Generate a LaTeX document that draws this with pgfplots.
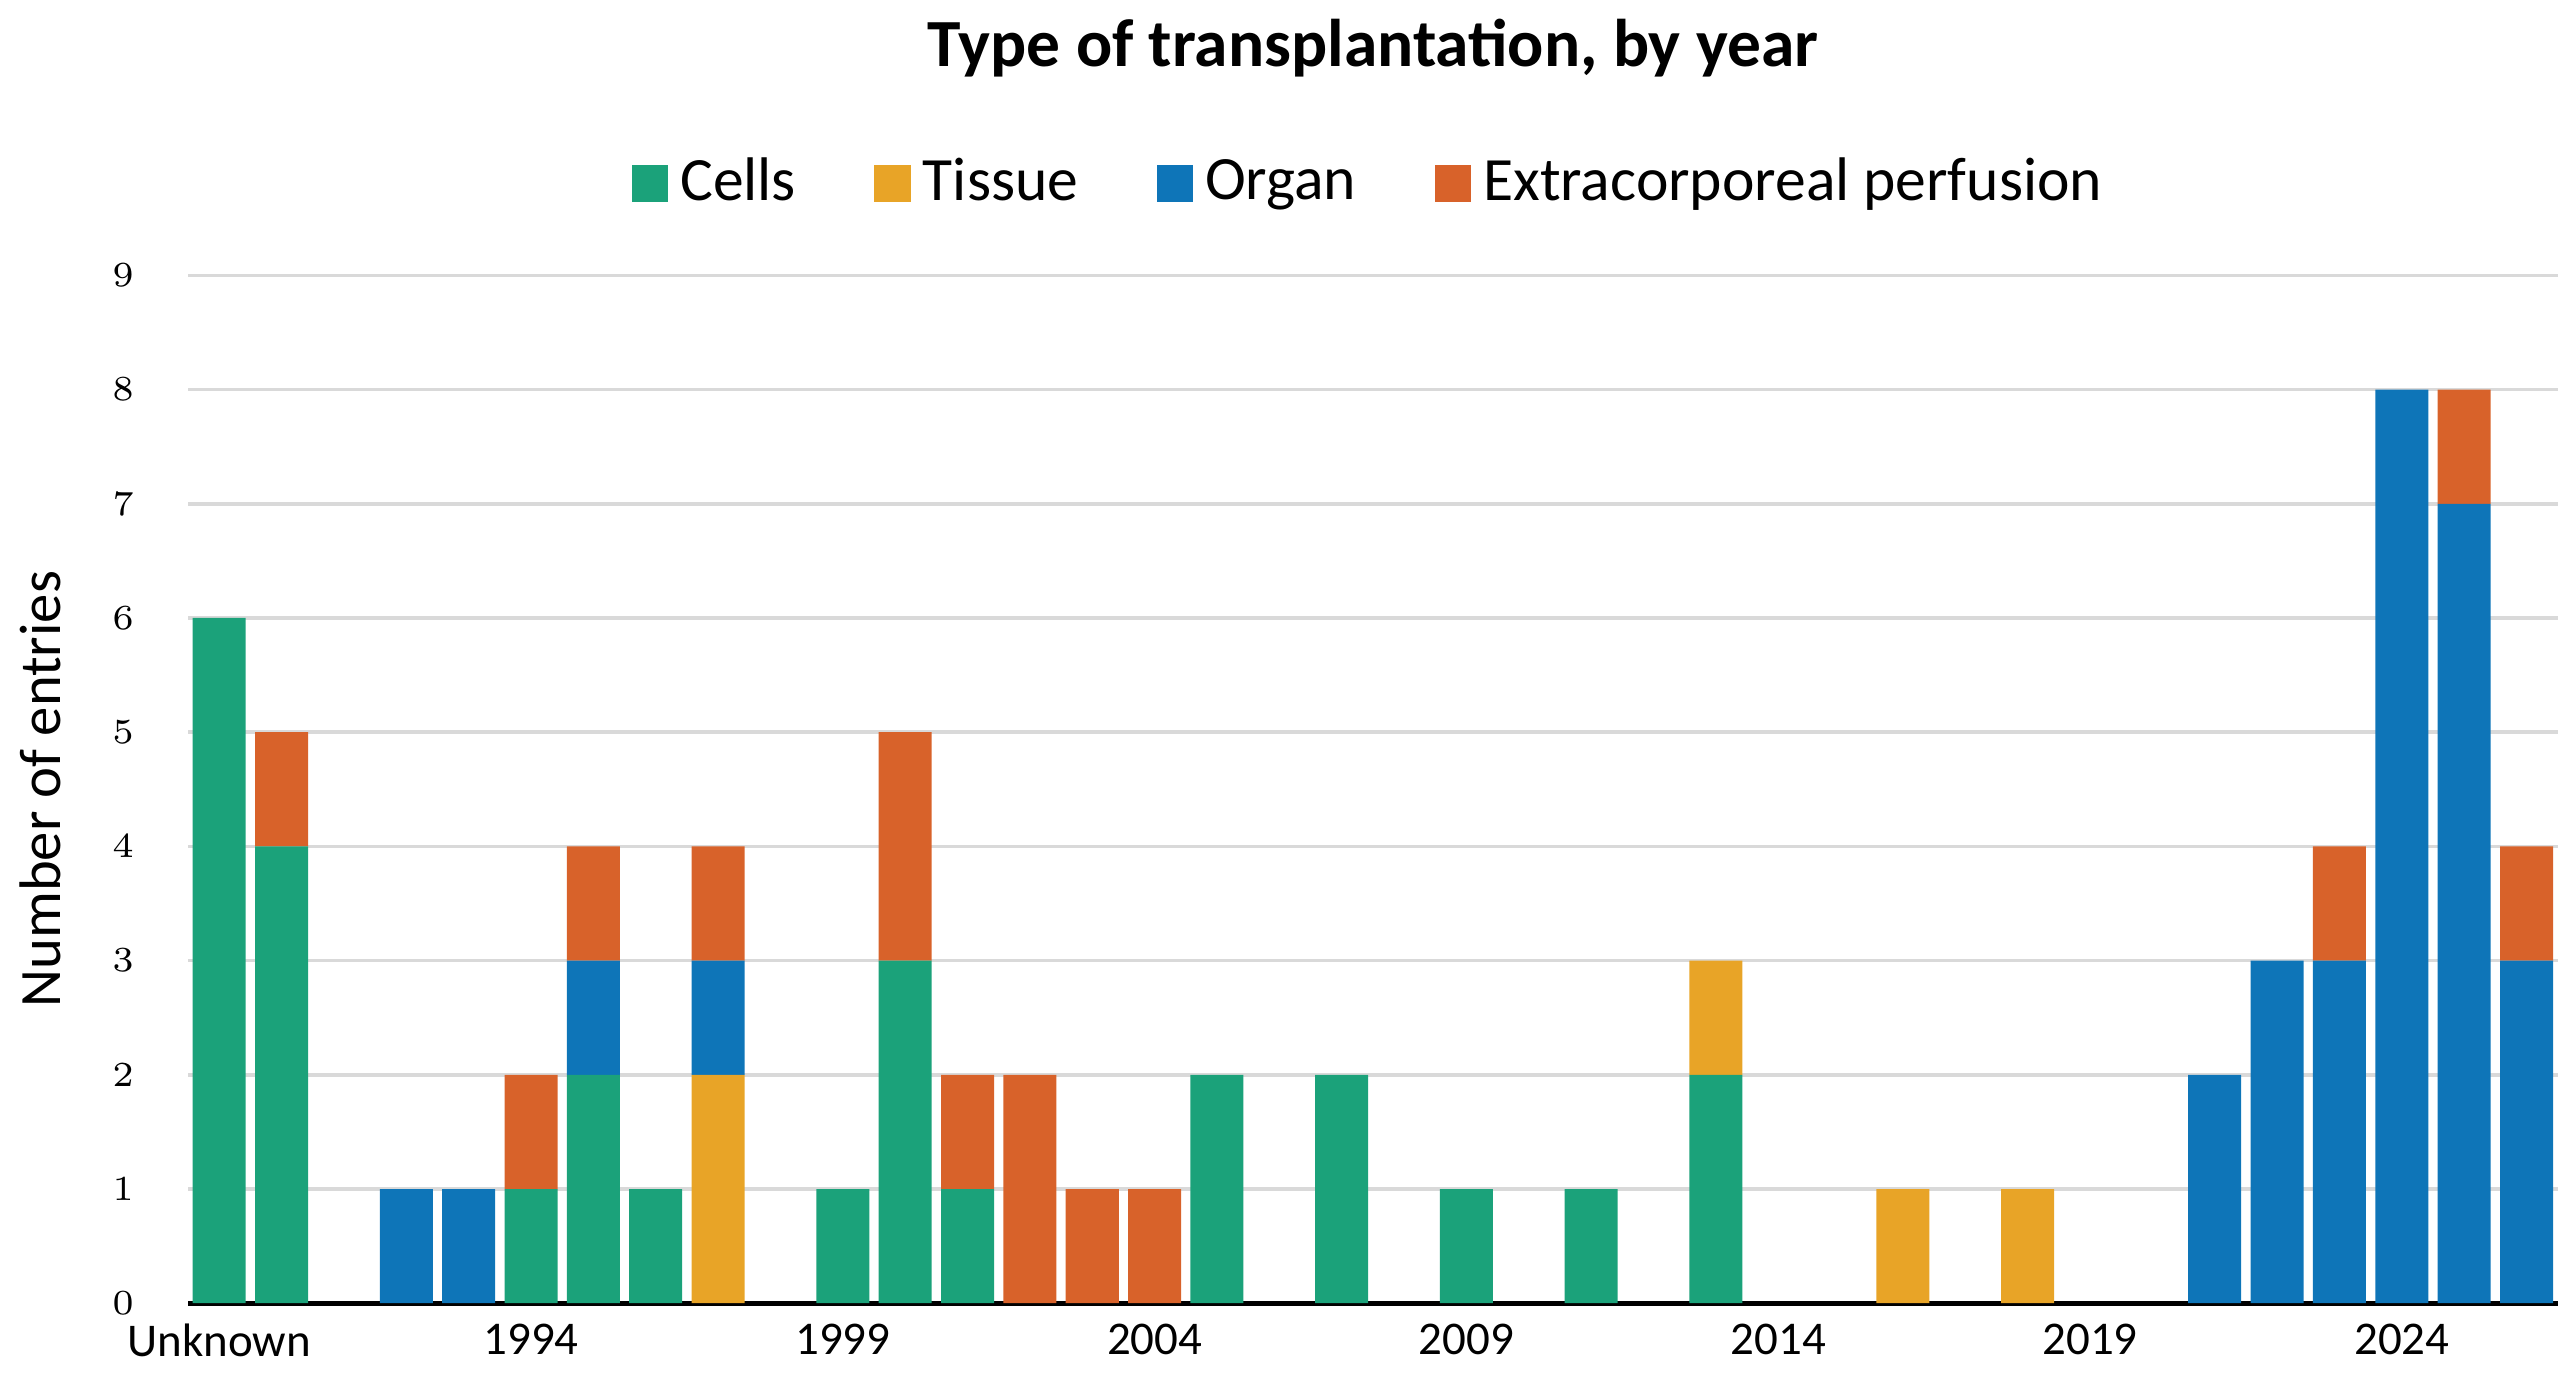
\documentclass[border=0pt]{standalone}
\usepackage{pgfplots}
\usepackage{pgfplotstable}
\pgfplotsset{compat=1.18}
\usepackage{fontspec}
\setmainfont{Carlito}
\definecolor{cC}{HTML}{1BA27A}
\definecolor{cT}{HTML}{E8A427}
\definecolor{cO}{HTML}{0E75B8}
\definecolor{cE}{HTML}{D8622A}
\pgfplotstableread{
x C T O E
0 6 0 0 0
1 4 0 0 1
2 0 0 0 0
3 0 0 1 0
4 0 0 1 0
5 1 0 0 1
6 2 0 1 1
7 1 0 0 0
8 0 2 1 1
9 0 0 0 0
10 1 0 0 0
11 3 0 0 2
12 1 0 0 1
13 0 0 0 2
14 0 0 0 1
15 0 0 0 1
16 2 0 0 0
17 0 0 0 0
18 2 0 0 0
19 0 0 0 0
20 1 0 0 0
21 0 0 0 0
22 1 0 0 0
23 0 0 0 0
24 2 1 0 0
25 0 0 0 0
26 0 0 0 0
27 0 1 0 0
28 0 0 0 0
29 0 1 0 0
30 0 0 0 0
31 0 0 0 0
32 0 0 2 0
33 0 0 3 0
34 0 0 3 1
35 0 0 8 0
36 0 0 7 1
37 0 0 3 1
}\data
\begin{document}
\begin{tikzpicture}
\begin{axis}[
  scale only axis, width=14.2cm, height=6.16cm,
  ybar stacked, bar width=0.85,
  xmin=-0.5, xmax=37.5, ymin=0, ymax=9,
  xtick={0,5,10,15,20,25,30,35},
  xticklabels={Unknown,1994,1999,2004,2009,2014,2019,2024},
  ytick={0,...,9},
  tick style={draw=none},
  axis x line*=bottom, axis y line*=left,
  y axis line style={draw=none},
  x axis line style={black, line width=0.8pt, -},
  ymajorgrids, grid style={gray!30, line width=0.6pt},
  xticklabel style={font=\fontsize{8}{9}\selectfont},
  yticklabel style={font=\fontsize{6}{7}\selectfont, xshift=-0.2cm},
  ylabel={Number of entries}, ylabel style={font=\fontsize{8}{9}\selectfont},
  every axis y label/.style={at={(-0.045,0.5)}, rotate=90, anchor=south},
  title={\bfseries Type of transplantation, by year},
  title style={font=\fontsize{11.5}{13}\selectfont, yshift=0.85cm},
  legend style={at={(0.5,1.04)}, anchor=south, draw=none, legend columns=-1,
    font=\fontsize{10.5}{12}\selectfont, /tikz/every even column/.append style={column sep=0.4cm}},
  legend image code/.code={\fill[#1] (0cm,-0.11cm) rectangle (0.22cm,0.11cm);},
]
\addplot[fill=cC, draw=none] table[x=x,y=C]{\data};
\addplot[fill=cT, draw=none] table[x=x,y=T]{\data};
\addplot[fill=cO, draw=none] table[x=x,y=O]{\data};
\addplot[fill=cE, draw=none] table[x=x,y=E]{\data};
\legend{Cells,Tissue,Organ,Extracorporeal perfusion}
\end{axis}
\end{tikzpicture}
\end{document}
